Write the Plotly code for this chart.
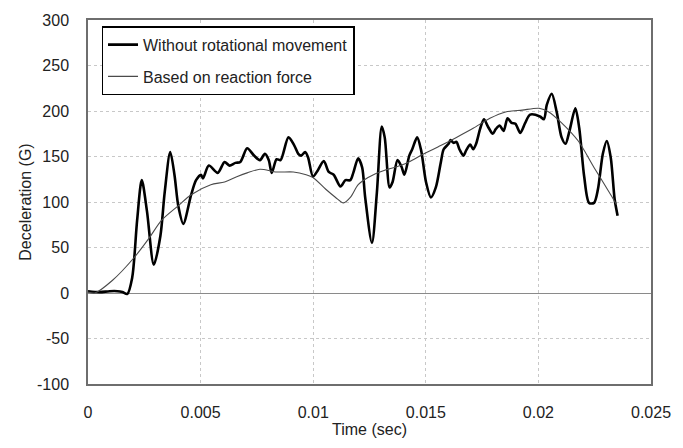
import plotly.graph_objects as go

# Without rotational movement (time in ms, deceleration in G)
t_without_ms = [0, 0.524, 0.960, 1.309, 1.527, 1.745, 1.963, 2.182, 2.387, 2.618, 2.923, 3.216, 3.403,
                3.652, 3.839, 4.014, 4.232, 4.581, 4.799, 5.017, 5.105, 5.366, 5.759, 6.065, 6.283,
                6.545, 6.763, 7.068, 7.373, 7.635, 7.853, 8.028, 8.159, 8.377, 8.551, 8.901, 9.162,
                9.337, 9.468, 9.642, 9.773, 9.991, 10.209, 10.471, 10.689, 10.908, 11.213, 11.431,
                11.649, 11.780, 11.998, 12.173, 12.304, 12.609, 12.827, 13.045, 13.176, 13.394,
                13.525, 13.743, 13.918, 14.049, 14.267, 14.398, 14.616, 14.791, 15.009, 15.227,
                15.445, 15.663, 15.794, 16.012, 16.100, 16.230, 16.361, 16.492, 16.667, 16.798,
                16.972, 17.103, 17.234, 17.408, 17.583, 17.757, 17.976, 18.106, 18.281, 18.455,
                18.630, 18.805, 18.979, 19.197, 19.415, 19.634, 20.070, 20.244, 20.375, 20.593,
                20.812, 21.030, 21.204, 21.379, 21.641, 21.815, 22.033, 22.251, 22.469, 22.644,
                22.862, 23.037, 23.211, 23.386, 23.517]
g_without = [2, 1, 2, 2, 1, -1, 17, 80, 124, 90, 31, 63, 110,
             155, 130, 95, 76, 108, 124, 130, 126, 140, 132, 144, 140,
             143, 144, 159, 151, 146, 153, 146, 132, 147, 146, 171, 162,
             153, 151, 155, 149, 128, 135, 145, 133, 130, 117, 124,
             124, 132, 148, 138, 106, 55, 110, 183, 171, 116,
             122, 146, 139, 130, 151, 158, 171, 157, 122, 105,
             116, 143, 158, 164, 168, 165, 166, 158, 151, 157,
             163, 158, 164, 180, 191, 183, 175, 180, 184, 178,
             192, 187, 186, 176, 187, 196, 194, 191, 207, 219,
             199, 171, 164, 178, 203, 181, 128, 99, 99, 114,
             153, 167, 149, 103, 85]

# Based on reaction force
t_reaction_ms = [0, 0.305, 1.091, 2.051, 2.705, 3.272, 4.014, 4.581, 5.454, 6.065, 6.632, 7.068,
                 7.635, 8.377, 9.119, 9.686, 9.991, 10.558, 10.995, 11.344, 11.649, 11.998,
                 12.435, 13.176, 13.482, 14.180, 14.921, 15.663, 16.361, 17.103, 17.845,
                 18.543, 19.280, 20.026, 20.462, 21.030, 21.771, 22.469, 23.211, 23.473]
g_reaction = [1, 0, 14, 39, 60, 80, 96, 108, 119, 122, 128, 132,
              136, 133, 133, 130, 127, 114, 105, 99, 105, 119,
              127, 135, 137, 143, 153, 162, 171, 181, 192,
              199, 201, 203, 199, 187, 167, 138, 108, 97]

# Axis ticks
y_tick_vals = [-100, -50, 0, 50, 100, 150, 200, 250, 300]
y_tick_text = ["-100", "-50", "0", "50", "100", "150", "200", "250", "300"]
x_tick_vals = [0, 0.005, 0.01, 0.015, 0.02, 0.025]
x_tick_text = ["0", "0.005", "0.01", "0.015", "0.02", "0.025"]

x_without = [t / 1000 for t in t_without_ms]
x_reaction = [t / 1000 for t in t_reaction_ms]

FONT = "Liberation Sans, Arial, sans-serif"
TXT = "#222222"

fig = go.Figure()
fig.add_trace(go.Scatter(x=x_without, y=g_without, mode="lines",
                         name="Without rotational movement", legendgroup="a",
                         line=dict(color="#000000", width=2.6, shape="spline", smoothing=0.8)))
fig.add_trace(go.Scatter(x=x_reaction, y=g_reaction, mode="lines",
                         name="Based on reaction force", legendgroup="b",
                         line=dict(color="#4a4a4a", width=1.1, shape="spline", smoothing=0.8)))

fig.update_layout(
    width=683, height=448,
    margin=dict(l=88, r=22, t=16, b=59),
    paper_bgcolor="white", plot_bgcolor="white",
    font=dict(family=FONT, size=16, color=TXT),
    legend=dict(x=0.024, y=0.983, xanchor="left", yanchor="top",
                bgcolor="white", bordercolor="#000000", borderwidth=1.5,
                font=dict(size=16, color=TXT), itemwidth=30,
                traceorder="grouped", tracegroupgap=8),
    showlegend=True,
)
fig.update_xaxes(range=[0, 0.025], tickvals=x_tick_vals, ticktext=x_tick_text,
                 showgrid=True, gridcolor="#c8c8c8", griddash="dot", gridwidth=1,
                 showline=True, linecolor="#6e6e6e", linewidth=1.5, mirror=True,
                 zeroline=False, ticks="", ticklabelstandoff=13,
                 title=dict(text="Time (sec)", font=dict(size=16, color=TXT), standoff=4))
fig.update_yaxes(range=[-100, 300], tickvals=y_tick_vals, ticktext=y_tick_text,
                 showgrid=True, gridcolor="#c8c8c8", griddash="dot", gridwidth=1,
                 showline=True, linecolor="#6e6e6e", linewidth=1.5, mirror=True,
                 zeroline=True, zerolinecolor="#8a8a8a", zerolinewidth=1,
                 ticks="", ticklabelstandoff=14,
                 title=dict(text="Deceleration (G)", font=dict(size=16, color=TXT), standoff=1))

fig.write_html("out.html")
